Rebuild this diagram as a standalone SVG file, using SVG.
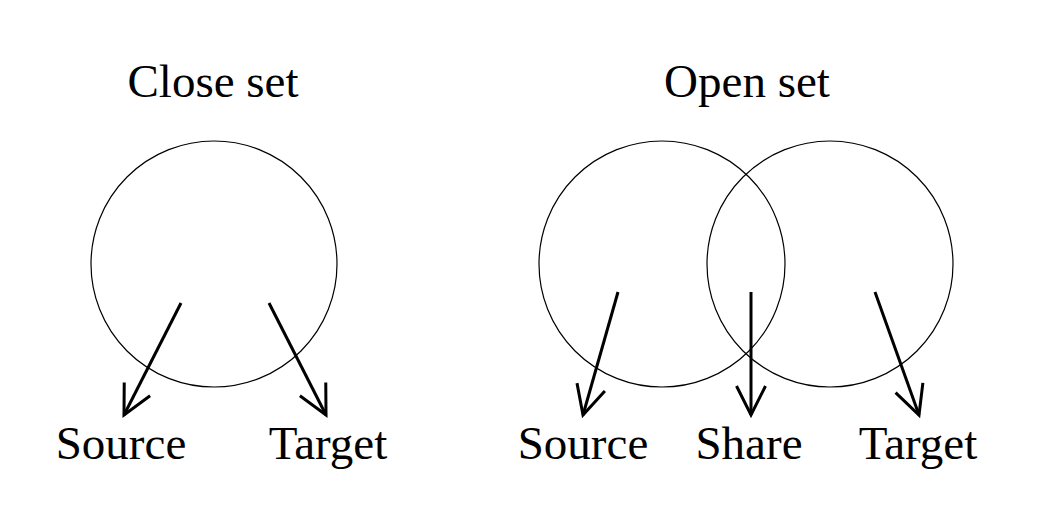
<svg xmlns="http://www.w3.org/2000/svg" width="1042" height="514" viewBox="0 0 1042 514">
<style>
text{font-family:"Liberation Serif","Times New Roman",serif;font-size:47px;fill:#000;text-anchor:middle}
.set{fill:none;stroke:#000;stroke-width:1.2}
.arr{fill:none;stroke:#000;stroke-width:3;marker-end:url(#head)}
</style>
<defs>
<marker id="head" markerUnits="userSpaceOnUse" orient="auto" markerWidth="40" markerHeight="40" refX="31" refY="20" viewBox="0 0 40 40">
<path d="M2,5.5 L31,20 L2,34.5" fill="none" stroke="#000" stroke-width="3"/>
</marker>
</defs>
<rect width="1042" height="514" fill="#fff"/>
<g id="close-set">
<text x="213" y="97">Close set</text>
<circle class="set" cx="214" cy="264" r="123"/>
</g>
<g id="open-set">
<text x="747" y="97">Open set</text>
<circle class="set" cx="662" cy="264" r="123"/>
<circle class="set" cx="830" cy="264" r="123"/>
</g>
<g id="close-source"><text x="121" y="459">Source</text></g>
<g id="close-target"><text x="328" y="459">Target</text></g>
<g id="open-source"><text x="583" y="459">Source</text></g>
<g id="open-share"><text x="749" y="459">Share</text></g>
<g id="open-target"><text x="918" y="459">Target</text></g>
<g id="connectors">
<line class="arr" x1="181" y1="303" x2="124" y2="415"/>
<line class="arr" x1="269" y1="303" x2="326" y2="415"/>
<line class="arr" x1="618" y1="292" x2="583" y2="415"/>
<line class="arr" x1="751" y1="292" x2="751" y2="415"/>
<line class="arr" x1="875" y1="292" x2="919" y2="415"/>
</g>
</svg>
